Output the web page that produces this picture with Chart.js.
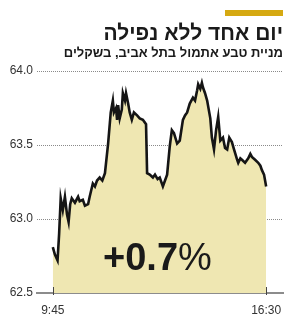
<!DOCTYPE html>
<html>
<head>
<meta charset="utf-8">
<script src="https://cdn.jsdelivr.net/npm/chart.js@4"></script>
<style>
  html, body { margin: 0; padding: 0; background: #fff; }
  #wrap { position: relative; width: 290px; height: 315px; overflow: hidden; font-family: "Liberation Sans", Arial, sans-serif; }
  #chart { position: absolute; left: 0; top: 0; }
  .bar { position: absolute; left: 225px; top: 10px; width: 58px; height: 6px; background: #d5a911; }
  .title { position: absolute; right: 7px; top: 22px; direction: rtl; font-size: 21px; font-weight: bold; color: #1a1a1a; line-height: 1; white-space: nowrap; }
  .sub { position: absolute; right: 7px; top: 46px; direction: rtl; font-size: 13px; font-weight: bold; color: #1a1a1a; line-height: 1; white-space: nowrap; }
  .big { position: absolute; left: 103px; top: 238px; font-size: 38px; font-weight: bold; color: #1a1a1a; line-height: 1; white-space: nowrap; }
  .big span { font-weight: normal; }
</style>
</head>
<body>
<div id="wrap">
  <canvas id="chart" width="290" height="315"></canvas>
  <div class="bar"></div>
  <div class="title">יום אחד ללא נפילה</div>
  <div class="sub">מניית טבע אתמול בתל אביב, בשקלים</div>
  <div class="big">+0.7<span>%</span></div>
</div>
<script>
// דקות מאז 9:45
const minutes = [0, 4, 9, 12, 15, 19, 23, 27, 30, 33, 36, 42, 48, 51, 57,
  61, 67, 70, 76, 80, 84, 89, 94, 99, 105, 110, 114, 116, 120, 122, 124, 127, 131, 133, 137, 139, 143, 146, 150, 154, 160,
  165, 171, 177, 179, 184, 190, 194, 199, 203, 209, 213, 217, 222,
  226, 230, 236, 241, 247, 251, 255, 260, 266, 270, 274, 276,
  280, 283, 285, 289, 293, 299, 302, 306, 310, 314, 318, 323,
  327, 331, 335, 340, 344, 350, 352, 356, 359, 365, 371,
  375, 378, 384, 390, 394, 397, 401, 405];

// מחיר המניה בשקלים
const prices = [62.81, 62.76, 62.72, 62.90, 63.14, 63.06, 63.15, 63.03, 62.98, 63.10, 63.14, 63.11, 63.15, 63.12, 63.13,
  63.09, 63.10, 63.15, 63.24, 63.22, 63.26, 63.28, 63.26, 63.31, 63.51, 63.72, 63.80, 63.72, 63.75, 63.67, 63.77, 63.68, 63.74, 63.85, 63.80, 63.85, 63.78, 63.72, 63.67, 63.72, 63.70,
  63.68, 63.67, 63.64, 63.31, 63.30, 63.28, 63.30, 63.27, 63.28, 63.22, 63.26, 63.30, 63.49,
  63.60, 63.58, 63.51, 63.53, 63.67, 63.70, 63.72, 63.78, 63.82, 63.80, 63.87, 63.91,
  63.88, 63.92, 63.89, 63.85, 63.80, 63.68, 63.55, 63.47, 63.60, 63.69, 63.53, 63.55,
  63.48, 63.47, 63.55, 63.52, 63.47, 63.40, 63.38, 63.41, 63.40, 63.38, 63.41,
  63.44, 63.42, 63.40, 63.38, 63.36, 63.33, 63.30, 63.22];

const tickMinutes = [0, 405];
const tickLabels = ["9:45", "16:30"];
const yTicks = [62.5, 63.0, 63.5, 64.0];

// סימוני שנתות קטנים על ציר הזמן
const tickMarks = {
  id: 'tickMarks',
  afterDraw(c) {
    const x = c.scales.x;
    const ctx = c.ctx;
    ctx.save();
    ctx.strokeStyle = '#444';
    ctx.lineWidth = 1;
    tickMinutes.forEach(m => {
      const px = Math.round(x.getPixelForValue(m)) + 0.5;
      ctx.beginPath();
      ctx.moveTo(px, x.top - 6);
      ctx.lineTo(px, x.top + 2);
      ctx.stroke();
    });
    ctx.restore();
  }
};

const ctx = document.getElementById('chart').getContext('2d');
new Chart(ctx, {
  type: 'line',
  data: {
    datasets: [{
      data: minutes.map((m, i) => ({ x: m, y: prices[i] })),
      borderColor: '#151515',
      borderWidth: 2.6,
      backgroundColor: '#efe7b2',
      fill: 'start',
      pointRadius: 0,
      tension: 0
    }]
  },
  options: {
    responsive: false,
    animation: false,
    layout: { padding: { top: 71, right: 7, left: 0, bottom: 0 } },
    plugins: { legend: { display: false }, tooltip: { enabled: false } },
    scales: {
      x: {
        type: 'linear',
        min: -30,
        max: 437,
        afterBuildTicks: s => { s.ticks = tickMinutes.map(v => ({ value: v })); },
        afterFit: s => { s.height = 22; },
        ticks: {
          callback: (v, i) => tickLabels[i],
          color: '#333',
          font: { family: 'Liberation Sans', size: 12 },
          padding: 2,
          maxRotation: 0,
          autoSkip: false
        },
        grid: { display: false },
        border: { display: true, color: '#8c8c8c', width: 2 }
      },
      y: {
        min: 62.5,
        max: 64,
        afterBuildTicks: s => { s.ticks = yTicks.map(v => ({ value: v })); },
        afterFit: s => { s.width = 37; },
        ticks: {
          callback: v => v.toFixed(1),
          color: '#333',
          font: { family: 'Liberation Sans', size: 12 },
          padding: 4
        },
        grid: { color: '#8a8a8a', lineWidth: 1, drawTicks: false, borderDash: [1, 1] },
        border: { display: false, dash: [1, 1] }
      }
    }
  },
  plugins: [tickMarks]
});
</script>
</body>
</html>
